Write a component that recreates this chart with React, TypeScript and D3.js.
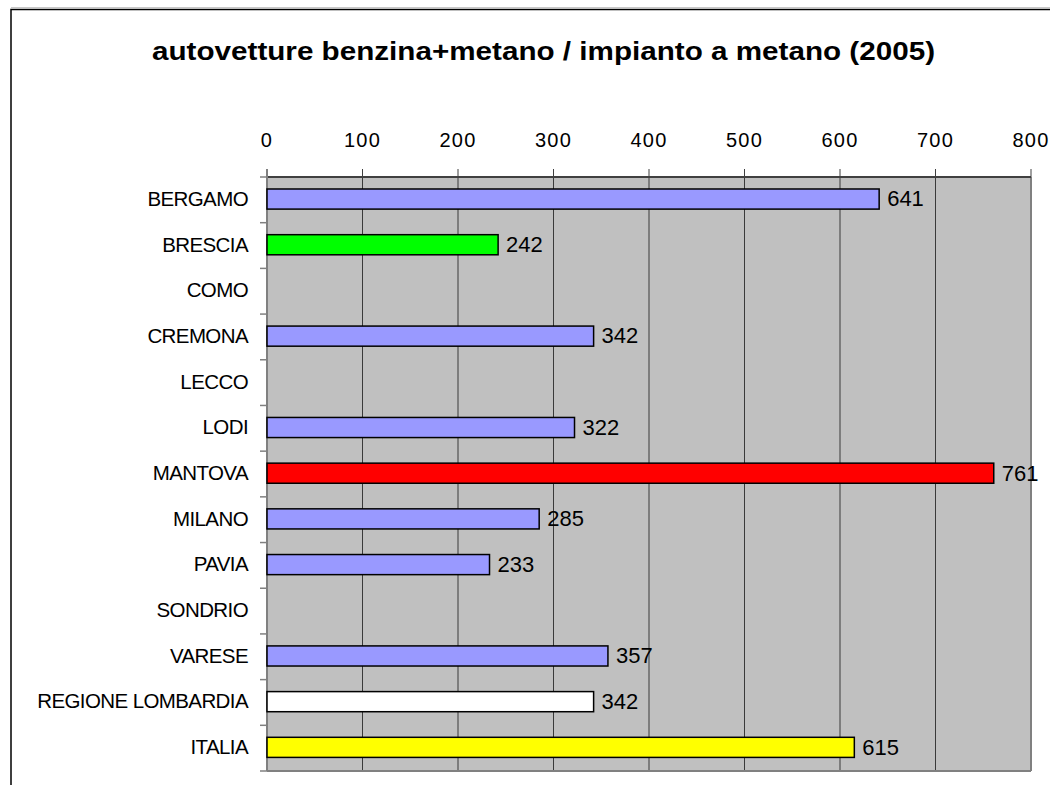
import React from "react";
import * as d3 from "d3";

const categories = [
  "BERGAMO",
  "BRESCIA",
  "COMO",
  "CREMONA",
  "LECCO",
  "LODI",
  "MANTOVA",
  "MILANO",
  "PAVIA",
  "SONDRIO",
  "VARESE",
  "REGIONE LOMBARDIA",
  "ITALIA",
];
const values: (number | null)[] = [641, 242, null, 342, null, 322, 761, 285, 233, null, 357, 342, 615];
const barColors = [
  "#9999FF",
  "#00FF00",
  "#9999FF",
  "#9999FF",
  "#9999FF",
  "#9999FF",
  "#FF0000",
  "#9999FF",
  "#9999FF",
  "#9999FF",
  "#9999FF",
  "#FFFFFF",
  "#FFFF00",
];
const xTicks = [0, 100, 200, 300, 400, 500, 600, 700, 800];
const title = "autovetture benzina+metano / impianto a metano (2005)";

export default function App() {
  const W = 1050;
  const H = 785;
  const left = 267;
  const right = 1031;
  const top = 177;
  const bottom = 771;
  const x = d3.scaleLinear().domain([0, 800]).range([left, right]);
  const y = d3.scaleBand<string>().domain(categories).range([top, bottom]).padding(0);
  const step = y.step();
  const barH = step * 0.44;
  const font = "Arial, 'Liberation Sans', Helvetica, sans-serif";

  return (
    <div style={{ position: "absolute", left: 0, top: 0 }}>
      <svg width={W} height={H} style={{ display: "block", background: "#fff" }}>
        {/* outer frame */}
        <line x1={11} y1={7.5} x2={W} y2={7.5} stroke="#c8c8c8" strokeWidth={1} />
        <rect x={11} y={9.5} width={W + 20} height={H + 20} fill="none" stroke="#000" strokeWidth={1.5} />

        {/* title */}
        <text
          x={543.5}
          y={60}
          textAnchor="middle"
          fontFamily={font}
          fontWeight="bold"
          fontSize={26}
          textLength={783}
          lengthAdjust="spacingAndGlyphs"
          fill="#000"
        >
          {title}
        </text>

        {/* plot background */}
        <rect x={left} y={top} width={right - left} height={bottom - top} fill="#C0C0C0" />

        {/* gridlines */}
        {xTicks
          .filter((t) => t > 0 && t < 800)
          .map((t) => (
            <line key={"g" + t} x1={x(t)} x2={x(t)} y1={top} y2={bottom} stroke="#3a3a3a" strokeWidth={1} />
          ))}

        {/* right and bottom border of plot area */}
        <line x1={right} x2={right} y1={top} y2={bottom} stroke="#808080" strokeWidth={2} />
        <line x1={left} x2={right} y1={bottom} y2={bottom} stroke="#808080" strokeWidth={2} />

        {/* top axis */}
        <line x1={left} x2={right} y1={top} y2={top} stroke="#404040" strokeWidth={2} />
        {xTicks.map((t) => (
          <g key={"t" + t}>
            <line x1={x(t)} x2={x(t)} y1={169} y2={top} stroke="#404040" strokeWidth={1} />
            <text
              x={x(t)}
              y={147}
              textAnchor="middle"
              fontFamily={font}
              fontSize={20}
              letterSpacing={1.2}
              fill="#000"
            >
              {t}
            </text>
          </g>
        ))}

        {/* left axis */}
        <line x1={left} x2={left} y1={top - 8} y2={bottom} stroke="#808080" strokeWidth={2} />
        {d3.range(categories.length + 1).map((i) => (
          <line
            key={"yt" + i}
            x1={260}
            x2={left}
            y1={top + i * step}
            y2={top + i * step}
            stroke="#808080"
            strokeWidth={1.5}
          />
        ))}

        {/* category labels */}
        {categories.map((c) => (
          <text
            key={"c" + c}
            x={248}
            y={(y(c) as number) + step / 2 + 6}
            textAnchor="end"
            fontFamily={font}
            fontSize={20.5}
            letterSpacing={-0.6}
            fill="#000"
          >
            {c}
          </text>
        ))}

        {/* bars */}
        {categories.map((c, i) => {
          const v = values[i];
          if (v === null) return null;
          const by = (y(c) as number) + step / 2 - barH / 2 - 0.8;
          return (
            <g key={"b" + c}>
              <rect
                x={x(0)}
                y={by}
                width={x(v) - x(0)}
                height={barH}
                fill={barColors[i]}
                stroke="#000"
                strokeWidth={1.5}
              />
              <text
                x={x(v) + 8}
                y={(y(c) as number) + step / 2 + 6.5}
                fontFamily={font}
                fontSize={22}
                fill="#000"
              >
                {v}
              </text>
            </g>
          );
        })}
      </svg>
    </div>
  );
}
